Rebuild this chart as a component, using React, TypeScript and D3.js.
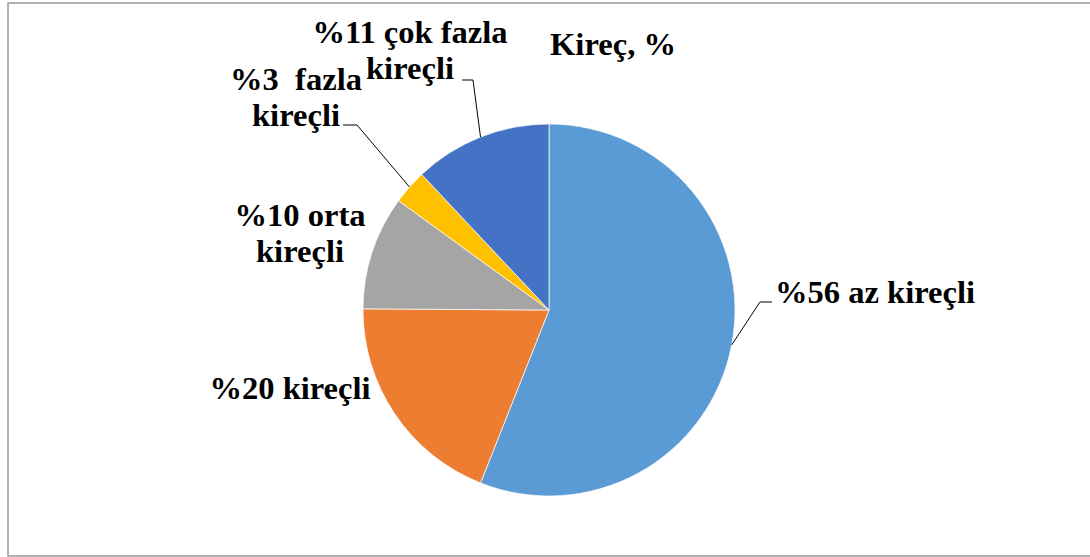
import React from 'react';
import * as d3 from 'd3';

// slice sizes (percent of circle)
const categories = ['az kireçli', 'kireçli', 'orta kireçli', 'fazla kireçli', 'çok fazla kireçli'];
const values = [56, 19.1, 9.9, 3, 12];
const labelLines = [
  ['%56 az kireçli'],
  ['%20 kireçli'],
  ['%10 orta', 'kireçli'],
  ['%3  fazla', 'kireçli'],
  ['%11 çok fazla', 'kireçli'],
];
const colors = ['#5B9BD5', '#ED7D31', '#A5A5A5', '#FFC000', '#4472C4'];
const title = 'Kireç, %';

const W = 1090;
const H = 557;
const cx = 549;
const cy = 310;
const radius = 186;

// label anchor (center x, first baseline) and leader bend, per slice
const labelPos = [
  { x: 875, y: 303, leader: [[760, 302], [772, 302]] },
  { x: 290, y: 399, leader: null },
  { x: 300, y: 226, leader: null },
  { x: 296, y: 90, leader: [[357, 125], [343, 125]] },
  { x: 410, y: 43, leader: [[473, 80], [462, 80]] },
];

const fontFamily = 'Liberation Serif, Times New Roman, serif';
const fontSize = 31;
const stretch = 1.05; // the source text is a little wider than plain Times

export default function App() {
  const pie = d3.pie<number>().sort(null).value(d => d);
  const arcs = pie(values);
  const arc = d3.arc<d3.PieArcDatum<number>>().innerRadius(0).outerRadius(radius);
  const edge = d3.arc<d3.PieArcDatum<number>>().innerRadius(radius).outerRadius(radius);

  return (
    <svg width={W} height={H} style={{ position: 'absolute', left: 0, top: 0, background: '#fff' }}>
      <rect x={8} y={3} width={W + 10} height={553} fill="#fff" stroke="#999" strokeWidth={1.5} />
      <g transform={`translate(${cx},${cy})`}>
        {arcs.map((a, i) => (
          <path key={categories[i]} d={arc(a) || ''} fill={colors[i]} stroke="#fff" strokeWidth={0.7} />
        ))}
      </g>
      {arcs.map((a, i) => {
        const p = labelPos[i];
        if (!p.leader) return null;
        const [ex, ey] = edge.centroid(a);
        const pts = [[cx + ex, cy + ey], ...p.leader];
        return (
          <polyline key={'l' + i} points={pts.map(q => q.join(',')).join(' ')}
            fill="none" stroke="#000" strokeWidth={1} />
        );
      })}
      {labelLines.map((lines, i) => (
        <text key={'t' + i} transform={`translate(${labelPos[i].x},${labelPos[i].y}) scale(${stretch},1)`}
          textAnchor="middle" fontFamily={fontFamily} fontWeight="bold" fontSize={fontSize} fill="#000"
          style={{ whiteSpace: 'pre' }}>
          {lines.map((s, j) => (
            <tspan key={j} x={0} dy={j === 0 ? 0 : 36}>{s}</tspan>
          ))}
        </text>
      ))}
      <text transform={`translate(613,55) scale(${stretch},1)`} textAnchor="middle" fontFamily={fontFamily}
        fontWeight="bold" fontSize={fontSize} fill="#000">
        {title}
      </text>
    </svg>
  );
}
